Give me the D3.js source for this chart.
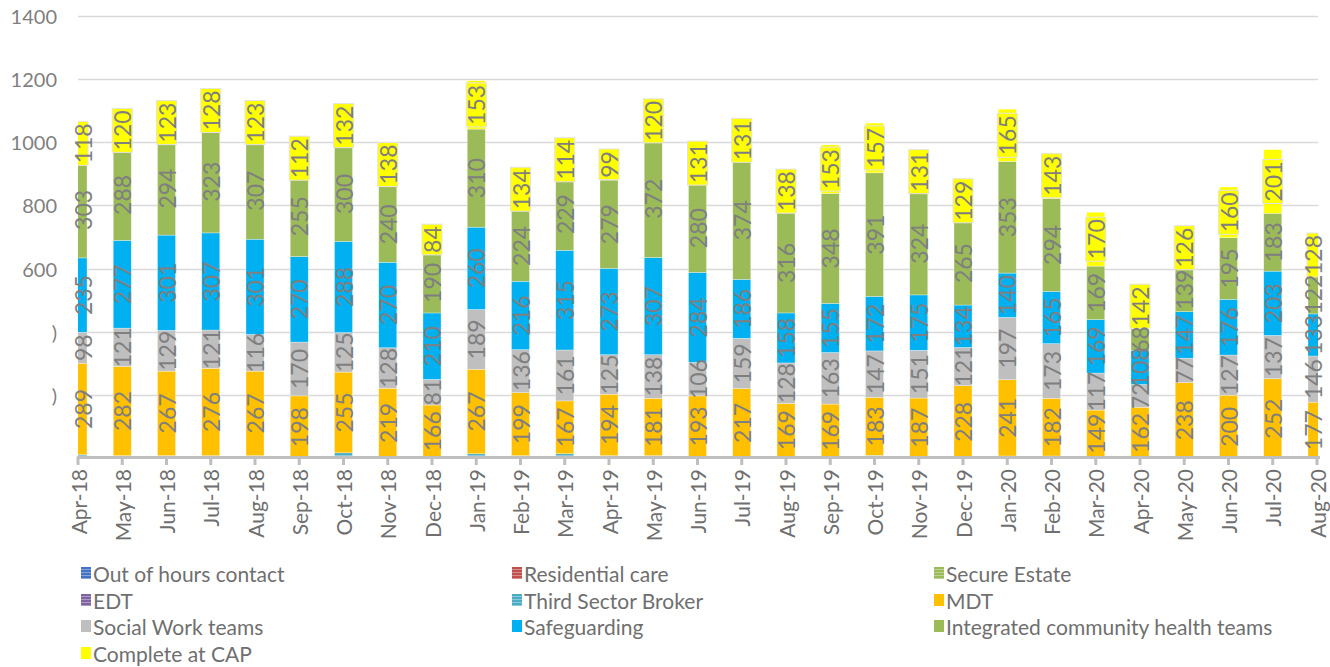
<!DOCTYPE html>
<html>
<head>
<meta charset="utf-8">
<script src="https://cdn.jsdelivr.net/npm/d3@7"></script>
<style>
  body { margin: 0; background: #fff; }
  svg { font-family: Lato, "Open Sans", sans-serif; }
  .tick-y { fill: #7f7f7f; font-size: 20px; }
  .month { fill: #6f6f6f; font-size: 21px; }
  .dlabel { fill: #7f7f7f; font-size: 23px; }
  .legend text { fill: #6f6f6f; font-size: 21px; }
</style>
</head>
<body>
<svg id="chart" width="1330" height="667"></svg>
<script>
// months on the x axis
const months = ['Apr-18','May-18','Jun-18','Jul-18','Aug-18','Sep-18','Oct-18','Nov-18','Dec-18',
  'Jan-19','Feb-19','Mar-19','Apr-19','May-19','Jun-19','Jul-19','Aug-19','Sep-19','Oct-19','Nov-19','Dec-19',
  'Jan-20','Feb-20','Mar-20','Apr-20','May-20','Jun-20','Jul-20','Aug-20'];

// small series at the bottom of the stacks (no labels shown)
const outOfHours   = [1,1,1,1,1,0,1,0,0,1,1,1,1,1,0,0,0,0,1,0,0,1,1,0,0,0,0,0,0];
const residential  = [1,0,0,0,0,0,0,0,0,0,0,0,0,0,0,0,2,0,0,0,0,0,0,0,0,0,0,0,1];
const secureEstate = [2,0,0,0,0,0,0,0,0,0,0,0,0,0,0,0,0,0,0,0,0,0,0,0,0,0,0,0,0];
const edt          = [0,0,0,0,0,0,0,0,0,0,0,0,0,0,0,0,0,0,0,0,0,0,0,0,0,0,0,0,0];
const thirdSector  = [8,8,8,8,8,0,17,3,3,14,8,14,8,8,5,4,3,3,9,4,2,7,7,4,0,2,0,0,0];

// labelled series
const mdt          = [289,282,267,276,267,198,255,219,166,267,199,167,194,181,193,217,169,169,183,187,228,241,182,149,162,238,200,252,177];
const socialWork   = [98,121,129,121,116,170,125,128,81,189,136,161,125,138,106,159,128,163,147,151,121,197,173,117,72,77,127,137,146];
const safeguarding = [235,277,301,307,301,270,288,270,210,260,216,315,273,307,284,186,158,155,172,175,134,140,165,169,108,147,176,203,133];
const community    = [303,288,294,323,307,255,300,240,190,310,224,229,279,372,280,374,316,348,391,324,265,353,294,169,68,139,195,183,122];
const completeCap  = [118,120,123,128,123,112,132,138,84,153,134,114,99,120,131,131,138,153,157,131,129,165,143,170,142,126,160,201,128];

const yTicks = [200,400,600,800,1000,1200,1400];
const yTickText = [')', ')', '600', '800', '1000', '1200', '1400'];

const series = [
  {name: 'Out of hours contact', values: outOfHours, color: '#4472c4', stripe: true},
  {name: 'Residential care', values: residential, color: '#c0504d', stripe: true},
  {name: 'Secure Estate', values: secureEstate, color: '#9bbb59', stripe: true},
  {name: 'EDT', values: edt, color: '#8064a2', stripe: true},
  {name: 'Third Sector Broker', values: thirdSector, color: '#4bacc6', stripe: true},
  {name: 'MDT', values: mdt, color: '#ffc000', label: true},
  {name: 'Social Work teams', values: socialWork, color: '#bfbfbf', label: true},
  {name: 'Safeguarding', values: safeguarding, color: '#00b0f0', label: true},
  {name: 'Integrated community health teams', values: community, color: '#9bbb59', label: true},
  {name: 'Complete at CAP', values: completeCap, color: '#ffff00', label: true, boxed: true}
];

const svg = d3.select('#chart');
const plotLeft = 78, plotRight = 1318, plotTop = 15.5, plotBottom = 458.5;
const barW = 18;

const x = d3.scalePoint().domain(months).range([plotLeft, plotRight - 1]);
const y = d3.scaleLinear().domain([0, 1400]).range([plotBottom, plotTop]);

// striped fills like the excel pattern swatches
const defs = svg.append('defs');
series.filter(s => s.stripe).forEach((s, i) => {
  let p = defs.append('pattern').attr('id', 'pat' + i)
      .attr('width', 4).attr('height', 3).attr('patternUnits', 'userSpaceOnUse');
  p.append('rect').attr('width', 4).attr('height', 3).attr('fill', s.color);
  p.append('rect').attr('y', 2).attr('width', 4).attr('height', 1).attr('fill', '#ffffff').attr('opacity', 0.35);
  s.fill = 'url(#pat' + i + ')';
});
series.forEach(s => { if (!s.fill) s.fill = s.color; });

defs.append('clipPath').attr('id', 'plot')
  .append('rect').attr('x', plotLeft).attr('y', 0).attr('width', plotRight - plotLeft).attr('height', plotBottom);

// gridlines
svg.append('g').selectAll('line')
  .data(yTicks)
  .enter().append('line')
  .attr('x1', plotLeft).attr('x2', plotRight)
  .attr('y1', d => Math.round(y(d)) + 0.5).attr('y2', d => Math.round(y(d)) + 0.5)
  .attr('stroke', '#d9d9d9').attr('stroke-width', 1.3);

svg.append('g').selectAll('text')
  .data(yTicks)
  .enter().append('text')
  .attr('class', 'tick-y')
  .attr('x', 57).attr('y', d => y(d))
  .attr('text-anchor', 'end').attr('dominant-baseline', 'central')
  .text((d, i) => yTickText[i]);

// stack it
const table = months.map((m, i) => {
  let row = {month: m};
  series.forEach(s => row[s.name] = s.values[i]);
  return row;
});
const stacked = d3.stack().keys(series.map(s => s.name))(table);

const bars = svg.append('g').attr('clip-path', 'url(#plot)');
stacked.forEach((layer, k) => {
  bars.append('g').selectAll('rect')
    .data(layer.filter(d => d[1] > d[0]))
    .enter().append('rect')
    .attr('x', d => x(d.data.month) - barW / 2)
    .attr('width', barW)
    .attr('y', d => y(d[1]))
    .attr('height', d => y(d[0]) - y(d[1]))
    .attr('fill', series[k].fill)
    .attr('stroke', '#ffffff').attr('stroke-opacity', 0.5).attr('stroke-width', 0.6);
});

// x axis
svg.append('line')
  .attr('x1', plotLeft - 1).attr('x2', plotRight + 2)
  .attr('y1', 457.5).attr('y2', 457.5)
  .attr('stroke', '#bfbfbf').attr('stroke-width', 3);
svg.append('g').selectAll('line')
  .data(months)
  .enter().append('line')
  .attr('x1', d => x(d)).attr('x2', d => x(d))
  .attr('y1', 457).attr('y2', 465)
  .attr('stroke', '#bfbfbf').attr('stroke-width', 3);

svg.append('g').selectAll('text')
  .data(months)
  .enter().append('text')
  .attr('class', 'month')
  .attr('transform', d => `translate(${x(d)},469) rotate(-90)`)
  .attr('text-anchor', 'end').attr('dominant-baseline', 'central')
  .text(d => d);

// data labels, centred in the visible part of each segment
const visCenter = m => {
  let a = Math.max(plotLeft, x(m) - barW / 2), b = Math.min(plotRight, x(m) + barW / 2);
  return (a + b) / 2;
};
const boxes = svg.append('g').attr('clip-path', 'url(#plot)');
const labels = svg.append('g');
stacked.forEach((layer, k) => {
  let s = series[k];
  if (!s.label) return;
  layer.forEach(d => {
    let v = d[1] - d[0];
    if (!v) return;
    let cx = visCenter(d.data.month), cy = (y(d[0]) + y(d[1])) / 2;
    let t = labels.append('text').attr('class', 'dlabel')
      .attr('transform', `translate(${cx},${cy}) rotate(-90)`)
      .attr('text-anchor', 'middle').attr('dominant-baseline', 'central')
      .text(v);
    if (s.boxed) {
      // yellow label background, clipped to the plot like the bars
      let len = t.node().getComputedTextLength() + 4;
      boxes.append('rect')
        .attr('x', x(d.data.month) - 10).attr('y', cy - len / 2)
        .attr('width', 20).attr('height', len)
        .attr('fill', '#ffff00').attr('stroke', '#e3e3e3').attr('stroke-width', 1);
    }
  });
});

// legend, three columns filled row by row
const legText = [93, 524, 946], legRows = [573, 600, 626, 653];
const legend = svg.append('g').attr('class', 'legend');
series.forEach((s, i) => {
  let lx = legText[i % 3], ly = legRows[Math.floor(i / 3)];
  legend.append('rect').attr('x', lx - 12).attr('y', ly - 6).attr('width', 10).attr('height', 12).attr('fill', s.fill);
  legend.append('text').attr('x', lx).attr('y', ly).attr('dominant-baseline', 'central').text(s.name);
});
</script>
</body>
</html>
